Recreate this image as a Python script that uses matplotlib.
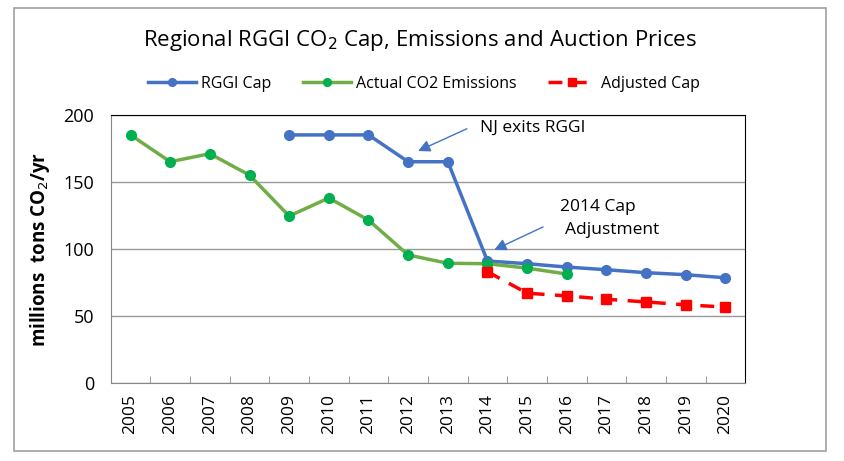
import numpy as np
import matplotlib.pyplot as plt
from matplotlib.patches import Rectangle

plt.rcParams['font.family'] = ['Open Sans', 'DejaVu Sans']

# data
years = [str(y) for y in range(2005, 2021)]
cap_years = ['2009', '2010', '2011', '2012', '2013', '2014', '2015', '2016',
             '2017', '2018', '2019', '2020']
rggi_cap = [185, 185, 185, 165, 165, 91, 89, 86.5, 84.5, 82.3, 80.8, 78.5]
emis_years = [str(y) for y in range(2005, 2017)]
emissions = [185, 165, 171, 155, 124.5, 138, 121.5, 95.5, 89.3, 89, 85.7, 81.3]
adj_years = ['2014', '2015', '2016', '2017', '2018', '2019', '2020']
adjusted_cap = [83, 67, 65, 62.5, 60.5, 58.3, 56.7]

pos = {y: i for i, y in enumerate(years)}

fig = plt.figure(figsize=(8.45, 4.61), dpi=100)
ax = fig.add_axes([0.131, 0.169, 0.751, 0.582])

# outer chart border
fig.patches.append(Rectangle((0.0166, 0.022), 0.961, 0.961, transform=fig.transFigure,
                             fill=False, edgecolor='#a0a0a0', linewidth=1.2))

ax.plot([pos[y] for y in cap_years], rggi_cap, color='#4472C4', linewidth=2.5,
        marker='o', markersize=7, label='RGGI Cap', zorder=3)
ax.plot([pos[y] for y in emis_years], emissions, color='#70AD47', linewidth=2.5,
        marker='o', markersize=7, markerfacecolor='#00B050', markeredgecolor='#00B050',
        label='Actual CO2 Emissions', zorder=4)
ax.plot([pos[y] for y in adj_years], adjusted_cap, color='#FF0000', linewidth=2.5,
        linestyle=(0, (4, 3)), marker='s', markersize=7, label='Adjusted Cap', zorder=5)

ax.set_xlim(-0.5, len(years) - 0.5)
ax.set_ylim(0, 200)
ax.set_yticks([0, 50, 100, 150, 200])
ax.yaxis.grid(True, color='#999999', linewidth=1)
ax.set_axisbelow(True)
ax.tick_params(axis='y', length=0, labelsize=13, pad=12)

ax.set_xticks(range(len(years)))
ax.set_xticklabels(years, rotation=90, fontsize=12.5)
ax.tick_params(axis='x', which='major', length=0, pad=8)
ax.set_xticks(np.arange(0.5, len(years) - 1, 1), minor=True)
ax.tick_params(axis='x', which='minor', direction='in', length=5, color='#888888')

for s in ['left', 'bottom']:
    ax.spines[s].set_color('#888888')
for s in ['top', 'right']:
    ax.spines[s].set_color('black')

ax.set_ylabel('millions  tons CO$_2$/yr', fontsize=13.5, fontweight='bold', labelpad=8)

fig.text(0.497, 0.913, 'Regional RGGI CO$_2$ Cap, Emissions and Auction Prices',
         ha='center', va='center', fontsize=16)

fig.legend(loc='center', bbox_to_anchor=(0.502, 0.818), ncol=3, frameon=False,
           fontsize=11.5, handlelength=3, handletextpad=0.3, columnspacing=2,
           markerscale=0.8)

ax.annotate('', xy=(7.25, 173), xytext=(8.48, 189.6),
            arrowprops=dict(arrowstyle='-|>', color='#4472C4', lw=1, mutation_scale=18,
                            shrinkA=0, shrinkB=0))
ax.text(8.8, 190, 'NJ exits RGGI', fontsize=12.5, va='center')

ax.annotate('', xy=(9.17, 99.3), xytext=(10.4, 116.4),
            arrowprops=dict(arrowstyle='-|>', color='#4472C4', lw=1, mutation_scale=18,
                            shrinkA=0, shrinkB=0))
ax.text(10.83, 131, '2014 Cap', fontsize=12.5, va='center')
ax.text(10.95, 114, 'Adjustment', fontsize=12.5, va='center')

fig.savefig('out.png', dpi=100)
